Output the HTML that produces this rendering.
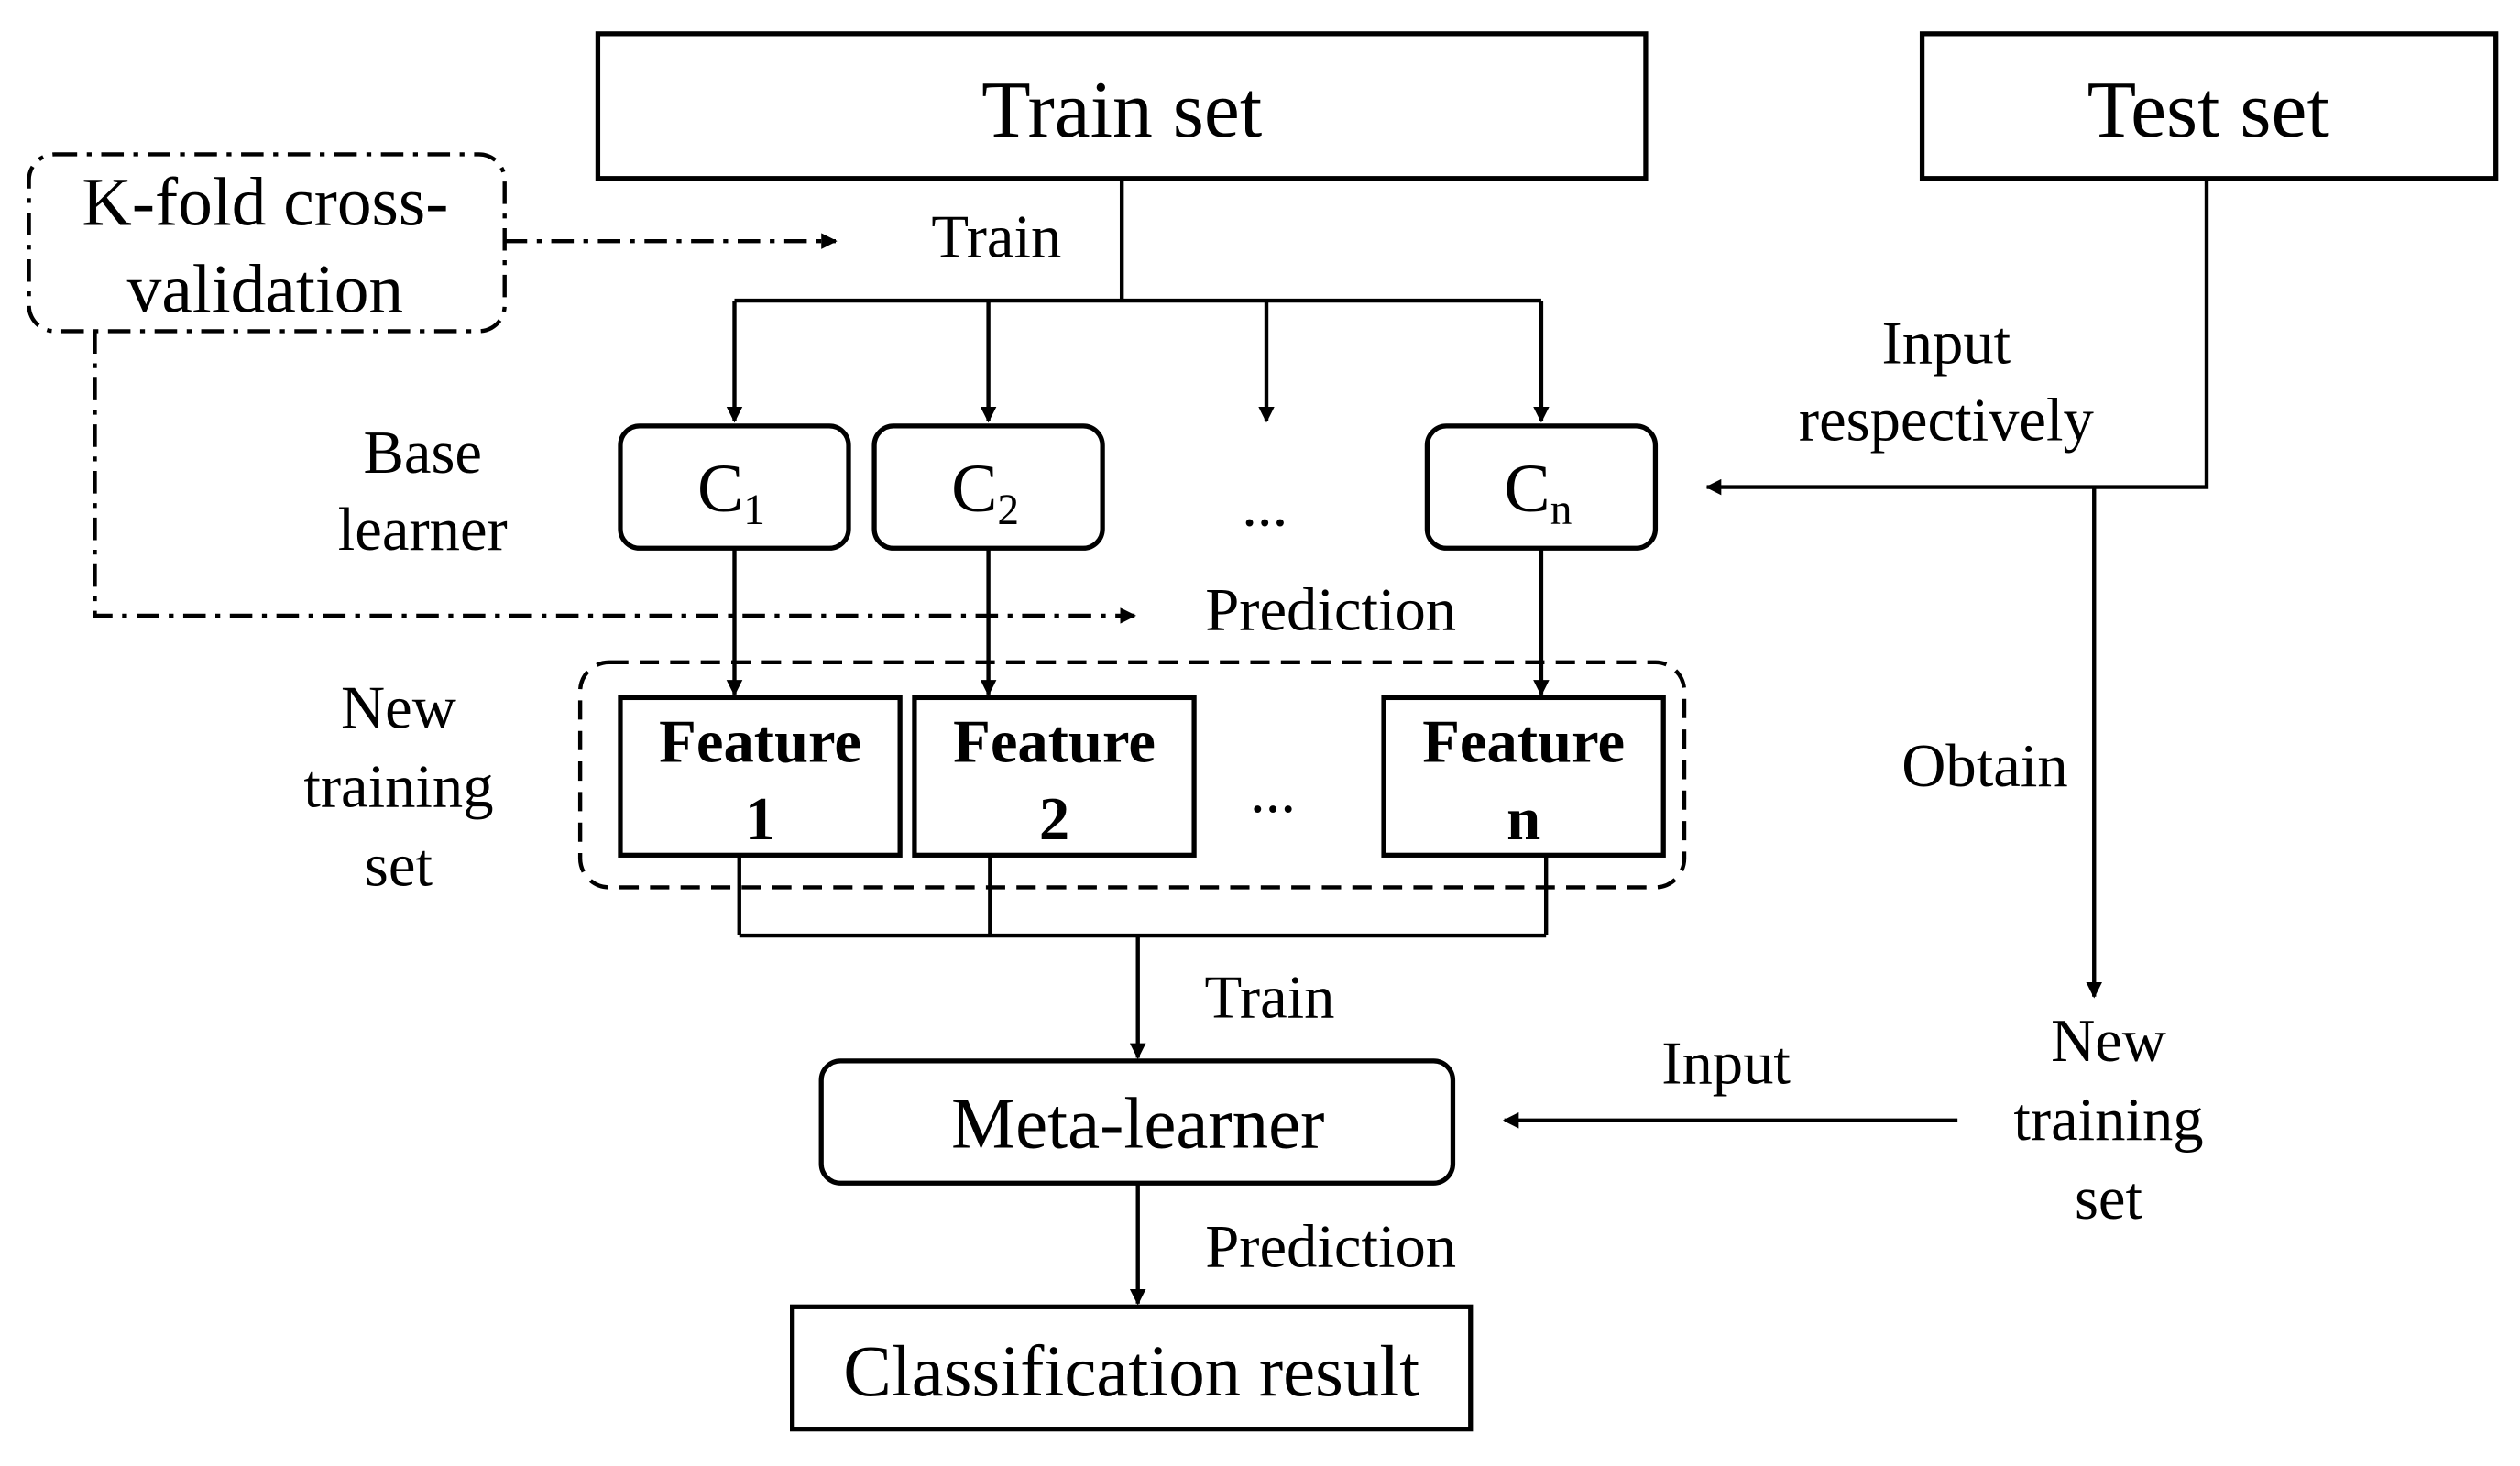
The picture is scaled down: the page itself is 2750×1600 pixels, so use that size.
<!DOCTYPE html>
<html><head><meta charset="utf-8"><style>html,body{margin:0;padding:0;background:#fff}svg{display:block}</style></head>
<body>
<svg width="2750" height="1600" viewBox="0 0 1568 912" preserveAspectRatio="none" xmlns="http://www.w3.org/2000/svg" font-family="Liberation Serif, serif" fill="none" stroke="#000">
<defs><marker id="a" markerWidth="10" markerHeight="10" refX="9" refY="5" orient="auto" markerUnits="userSpaceOnUse"><path d="M0,0 L10,5 L0,10 Z" fill="#000" stroke="none"/></marker></defs>
<g stroke-width="3">
<rect x="372" y="21" width="652" height="90"/>
<rect x="1196" y="21" width="357" height="90"/>
<rect x="386" y="265" width="142" height="76" rx="12"/>
<rect x="544" y="265" width="142" height="76" rx="12"/>
<rect x="888" y="265" width="142" height="76" rx="12"/>
<rect x="386" y="434" width="174" height="98"/>
<rect x="569" y="434" width="174" height="98"/>
<rect x="861" y="434" width="174" height="98"/>
<rect x="511" y="660" width="393" height="76" rx="12"/>
<rect x="493" y="813" width="422" height="76"/>
</g>
<g stroke-width="2.5">
<rect x="18" y="96" width="296" height="110" rx="16" stroke-dasharray="14,6,3,6"/>
<rect x="361" y="412" width="687" height="140" rx="18" stroke-dasharray="12,7"/>
<path d="M698,111 V187 M457,187 H959"/>
<path d="M457,187 V262" marker-end="url(#a)"/>
<path d="M615,187 V262" marker-end="url(#a)"/>
<path d="M788,187 V262" marker-end="url(#a)"/>
<path d="M959,187 V262" marker-end="url(#a)"/>
<path d="M1373,111 V303 H1062" marker-end="url(#a)"/>
<path d="M1303,303 V620" marker-end="url(#a)"/>
<path d="M1218,697 H936" marker-end="url(#a)"/>
<path d="M457,341 V432" marker-end="url(#a)"/>
<path d="M615,341 V432" marker-end="url(#a)"/>
<path d="M959,341 V432" marker-end="url(#a)"/>
<path d="M460,532 V582 M616,532 V582 M962,532 V582 M460,582 H962"/>
<path d="M708,582 V658" marker-end="url(#a)"/>
<path d="M708,736 V811" marker-end="url(#a)"/>
<path d="M314,150 H520" stroke-dasharray="14,6,3,6" marker-end="url(#a)"/>
<path d="M59,206 V383 H706" stroke-dasharray="14,6,3,6" marker-end="url(#a)"/>
</g>
<g fill="#000" stroke="none" font-size="38" text-anchor="middle">
<text x="698" y="85" font-size="50">Train set</text>
<text x="1374" y="85" font-size="50">Test set</text>
<text x="165" y="140" font-size="43">K-fold cross-</text>
<text x="165" y="194" font-size="43">validation</text>
<text x="620" y="160">Train</text>
<text x="263" y="294">Base</text>
<text x="263" y="342">learner</text>
<text x="1211" y="226">Input</text>
<text x="1211" y="274">respectively</text>
<text x="455" y="318" font-size="43">C<tspan font-size="27" dy="8">1</tspan></text>
<text x="613" y="318" font-size="43">C<tspan font-size="27" dy="8">2</tspan></text>
<text x="957" y="318" font-size="43">C<tspan font-size="27" dy="8">n</tspan></text>
<text x="787" y="327">...</text>
<text x="828" y="392">Prediction</text>
<text x="248" y="453">New</text>
<text x="248" y="502">training</text>
<text x="248" y="551">set</text>
<g font-weight="bold">
<text x="473" y="474">Feature</text><text x="473" y="522">1</text>
<text x="656" y="474">Feature</text><text x="656" y="522">2</text>
<text x="948" y="474">Feature</text><text x="948" y="522">n</text>
</g>
<text x="792" y="505">...</text>
<text x="1235" y="489">Obtain</text>
<text x="790" y="633">Train</text>
<text x="1074" y="674">Input</text>
<text x="1312" y="660">New</text>
<text x="1312" y="709">training</text>
<text x="1312" y="758">set</text>
<text x="708" y="714" font-size="45">Meta-learner</text>
<text x="828" y="788">Prediction</text>
<text x="704" y="868" font-size="45">Classification result</text>
</g>
</svg>
</body></html>
